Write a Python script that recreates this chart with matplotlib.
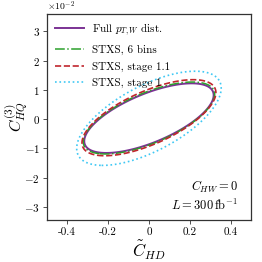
import numpy as np
import matplotlib
matplotlib.use("Agg")
import matplotlib.pyplot as plt
from matplotlib.lines import Line2D
from matplotlib.ticker import ScalarFormatter

plt.rcParams['font.family'] = 'serif'
plt.rcParams['font.serif'] = ['cmr10', 'DejaVu Serif']
plt.rcParams['mathtext.fontset'] = 'cm'
plt.rcParams['axes.unicode_minus'] = False
plt.rcParams['axes.formatter.use_mathtext'] = True

# Ellipse (Delta chi^2 = 1) parameters
labels = [r"Full $p_{T,W}$ dist.", "STXS, 6 bins", "STXS, stage 1.1", "STXS, stage 1"]
sigma_chd = [0.317, 0.322, 0.328, 0.354]          # half-extent in C~_HD
sigma_chq = [1.19e-2, 1.23e-2, 1.30e-2, 1.61e-2]  # half-extent in C_HQ^(3)
rho = [0.66, 0.66, 0.66, 0.64]
center_chd = [0.0, 0.0, 0.0, 0.0]
center_chq = [0.035e-2, 0.04e-2, 0.05e-2, 0.03e-2]

colors = ['#7b3294', '#2ca02c', '#c0262d', '#3fc8f4']
styles = ['-', '-.', '--', ':']
widths = [1.4, 1.1, 1.2, 1.2]

fig = plt.figure(figsize=(2.62, 2.62), dpi=100)
ax = fig.add_axes([0.179, 0.160, 0.779, 0.787])

x = np.linspace(-0.5, 0.5, 600)
y = np.linspace(-0.0345, 0.036, 600)
X, Y = np.meshgrid(x, y)

handles = []
for i in range(len(labels)):
    dx = (X - center_chd[i]) / sigma_chd[i]
    dy = (Y - center_chq[i]) / sigma_chq[i]
    chi2 = (dx**2 - 2 * rho[i] * dx * dy + dy**2) / (1 - rho[i]**2)
    ax.contour(X, Y, chi2, levels=[1.0], colors=[colors[i]],
               linestyles=[styles[i]], linewidths=[widths[i]])
    handles.append(Line2D([], [], color=colors[i], ls=styles[i], lw=widths[i]))

ax.set_xlim(-0.5, 0.5)
ax.set_ylim(-0.0345, 0.036)
ax.set_xticks([-0.4, -0.2, 0, 0.2, 0.4])
ax.set_xticklabels(['-0.4', '-0.2', '0', '0.2', '0.4'])
ax.set_yticks([-0.03, -0.02, -0.01, 0, 0.01, 0.02, 0.03])
fmt = ScalarFormatter(useMathText=True)
fmt.set_powerlimits((-1, 1))
ax.yaxis.set_major_formatter(fmt)
ax.tick_params(labelsize=8, length=3, width=0.6, color='#333333', pad=2)
for s in ax.spines.values():
    s.set_linewidth(0.9)
    s.set_color('#333333')
ax.yaxis.get_offset_text().set_fontsize(7)

ax.set_xlabel(r"$\tilde{C}_{HD}$", fontsize=12, labelpad=1)
ax.set_ylabel(r"$C_{HQ}^{(3)}$", fontsize=11.5)
ax.yaxis.set_label_coords(-0.085, 0.5)

ax.legend(handles, labels, loc='upper left', frameon=False, fontsize=8,
          handlelength=2.6, labelspacing=0.6, borderaxespad=0.3,
          handletextpad=0.8)

ax.text(0.435, -0.023, r"$C_{HW} = 0$", fontsize=9, ha='right', va='center')
ax.text(0.435, -0.0295, r"$L = 300\,\mathrm{fb}^{-1}$", fontsize=9, ha='right', va='center')

fig.savefig("out.png", dpi=100)
